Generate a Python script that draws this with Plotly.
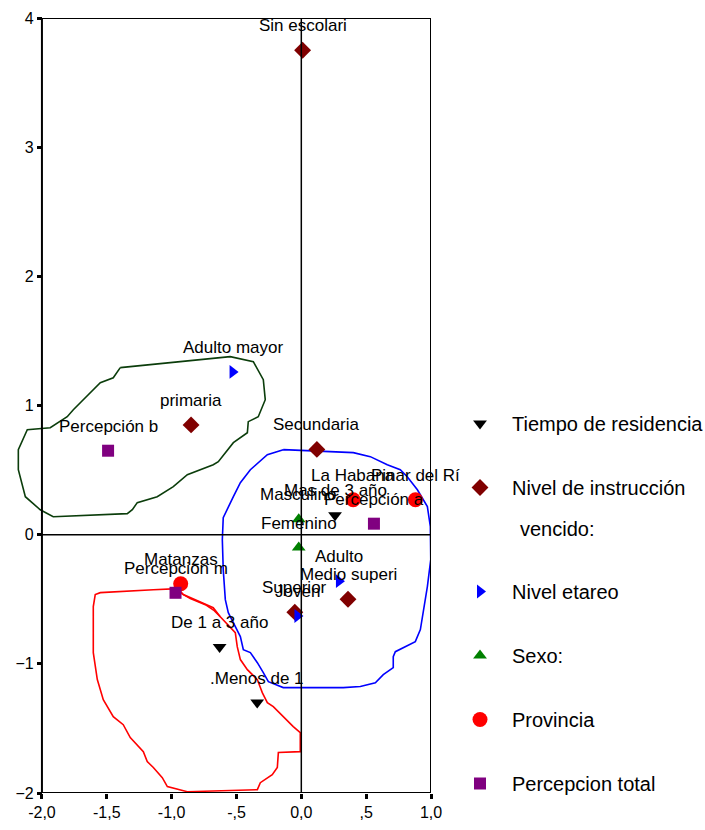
import plotly.graph_objects as go

FONT = "Liberation Sans, Arial, sans-serif"

# Category points (dimension 1, dimension 2)
tiempo_lab = ["Mas de 3 año", "De 1 a 3 año", ".Menos de 1"]
tiempo_x = [0.26, -0.63, -0.34]
tiempo_y = [0.15, -0.87, -1.30]

nivel_lab = ["Sin escolari", "primaria", "Secundaria", "Medio superi", "Superior"]
nivel_x = [0.01, -0.85, 0.12, 0.36, -0.05]
nivel_y = [3.75, 0.85, 0.66, -0.50, -0.60]

etareo_lab = ["Adulto mayor", "Adulto", "Joven"]
etareo_x = [-0.53, 0.29, -0.03]
etareo_y = [1.26, -0.36, -0.63]

sexo_lab = ["Masculino", "Femenino"]
sexo_x = [-0.02, -0.02]
sexo_y = [0.12, -0.10]

prov_lab = ["La Habana", "Pinar del Rí", "Matanzas"]
prov_x = [0.40, 0.88, -0.93]
prov_y = [0.27, 0.27, -0.38]

perc_lab = ["Percepción a", "Percepcion m", "Percepción b"]
perc_x = [0.56, -0.97, -1.49]
perc_y = [0.085, -0.45, 0.65]

# Hand-drawn grouping outlines
green_x = [-1.396, -0.548, -0.370, -0.293, -0.278, -0.332, -0.409, -0.416, -0.524, -0.640,
           -0.679, -0.879, -0.987, -1.111, -1.265, -1.303, -1.342, -1.913, -2.013, -2.128,
           -2.182, -2.182, -2.113, -1.936, -1.805, -1.758, -1.550, -1.450, -1.396]
green_y = [1.293, 1.378, 1.339, 1.200, 1.045, 0.913, 0.875, 0.789, 0.712, 0.565,
           0.542, 0.464, 0.372, 0.294, 0.248, 0.193, 0.163, 0.139, 0.193, 0.294,
           0.503, 0.658, 0.813, 0.828, 0.913, 0.967, 1.176, 1.215, 1.293]

blue_x = [-0.139, 0.401, 0.532, 0.663, 0.763, 0.817, 0.895, 0.972, 0.995, 0.998,
          0.972, 0.941, 0.918, 0.879, 0.787, 0.725, 0.709, 0.709, 0.632, 0.571,
          0.455, 0.324, -0.139, -0.254, -0.293, -0.339, -0.393, -0.447, -0.470, -0.524,
          -0.563, -0.586, -0.602, -0.609, -0.602, -0.524, -0.470, -0.393, -0.262, -0.139]
blue_y = [0.658, 0.635, 0.604, 0.542, 0.503, 0.449, 0.348, 0.217, 0.062, -0.193,
          -0.402, -0.580, -0.735, -0.828, -0.875, -0.906, -0.944, -1.029, -1.084, -1.146,
          -1.176, -1.184, -1.184, -1.138, -1.068, -0.991, -0.913, -0.890, -0.789, -0.681,
          -0.604, -0.503, -0.271, -0.039, 0.132, 0.294, 0.402, 0.503, 0.619, 0.658]

red_x = [-0.949, -1.141, -1.550, -1.589, -1.604, -1.604, -1.573, -1.527, -1.450, -1.373,
         -1.319, -1.218, -1.188, -1.141, -1.072, -1.033, -0.879, -0.339, -0.316, -0.224,
         -0.185, -0.177, -0.008, -0.008, -0.062, -0.139, -0.216, -0.262, -0.301, -0.339,
         -0.416, -0.470, -0.494, -0.509, -0.571, -0.625, -0.679, -0.779, -0.910, -0.949,
         None, -0.949, -0.856, -0.740, -0.671, -0.625]
red_y = [-0.418, -0.426, -0.449, -0.464, -0.557, -0.913, -1.122, -1.277, -1.409, -1.471,
         -1.571, -1.680, -1.757, -1.803, -1.881, -1.950, -1.990, -1.974, -1.920, -1.858,
         -1.803, -1.687, -1.680, -1.533, -1.486, -1.409, -1.331, -1.300, -1.223, -1.122,
         -1.045, -0.967, -0.867, -0.759, -0.697, -0.635, -0.565, -0.519, -0.464, -0.418,
         None, -0.441, -0.495, -0.542, -0.588, -0.635]

x_ticks = [-2.0, -1.5, -1.0, -0.5, 0.0, 0.5, 1.0]
x_ticktext = ["-2,0", "-1,5", "-1,0", "-,5", "0,0", ",5", "1,0"]
y_ticks = [-2, -1, 0, 1, 2, 3, 4]

fig = go.Figure()

for ox, oy, col in [(green_x, green_y, "#0b3d0b"), (blue_x, blue_y, "#0000ff"), (red_x, red_y, "#ff0000")]:
    fig.add_trace(go.Scatter(x=ox, y=oy, mode="lines", line=dict(color=col, width=1.6),
                             showlegend=False, hoverinfo="skip"))

series = [
    ("Tiempo de residencia", tiempo_lab, tiempo_x, tiempo_y, "triangle-down", "black", 12, "legend"),
    ("Nivel de instrucción", nivel_lab, nivel_x, nivel_y, "diamond", "#800000", 13, "legend"),
    ("Nivel etareo", etareo_lab, etareo_x, etareo_y, "triangle-right", "#0000ff", 12, "legend2"),
    ("Sexo:", sexo_lab, sexo_x, sexo_y, "triangle-up", "#008000", 12, "legend2"),
    ("Provincia", prov_lab, prov_x, prov_y, "circle", "#ff0000", 15, "legend2"),
    ("Percepcion total", perc_lab, perc_x, perc_y, "square", "#800080", 12, "legend2"),
]

for name, labs, xs, ys, sym, col, size, lg in series:
    fig.add_trace(go.Scatter(x=xs, y=ys, mode="markers", name=name, legendgroup=name,
                             legend=lg, cliponaxis=False,
                             marker=dict(symbol=sym, color=col, size=size, line=dict(width=0))))
    for t, xv, yv in zip(labs, xs, ys):
        fig.add_annotation(x=xv, y=yv, text=t, showarrow=False, yanchor="bottom", yshift=13,
                           font=dict(family=FONT, size=17, color="black"))

# Second line of the "Nivel de instrucción" legend entry
fig.add_annotation(xref="paper", yref="paper", x=(518 - 16) / 415, y=1 - (529 - 18) / 775,
                   xanchor="left", yanchor="middle", text="vencido:", showarrow=False,
                   font=dict(family=FONT, size=20, color="black"))

# Frame and the two reference axes through the origin
fig.add_shape(type="rect", x0=-2, x1=1, y0=-2, y1=4, line=dict(color="black", width=2), layer="above")
fig.add_shape(type="line", x0=0, x1=0, y0=-2, y1=4, line=dict(color="black", width=1.5), layer="above")
fig.add_shape(type="line", x0=-2, x1=1, y0=0, y1=0, line=dict(color="black", width=1.5), layer="above")

legend_common = dict(font=dict(family=FONT, size=20, color="black"), bgcolor="rgba(0,0,0,0)",
                     xanchor="left", yanchor="top", tracegroupgap=35, itemwidth=54, valign="top",
                     itemclick=False)

fig.update_layout(
    width=705, height=830,
    margin=dict(l=16, r=274, t=18, b=37, autoexpand=False),
    plot_bgcolor="white", paper_bgcolor="white",
    font=dict(family=FONT, size=16, color="black"),
    xaxis=dict(range=[-2.2, 1.0], tickvals=x_ticks, ticktext=x_ticktext, showgrid=False,
               zeroline=False, showline=False, ticks="outside", ticklen=5, tickwidth=3,
               tickcolor="black", tickfont=dict(family=FONT, size=16, color="black")),
    yaxis=dict(range=[-2, 4], tickvals=y_ticks, showgrid=False, zeroline=False, showline=False,
               anchor="free", position=0.0625, ticks="outside", ticklen=5, tickwidth=3,
               tickcolor="black", tickfont=dict(family=FONT, size=16, color="black")),
    legend=dict(x=(448 - 16) / 415, y=1 - (404 - 18) / 775, **legend_common),
    legend2=dict(x=(448 - 16) / 415, y=1 - (572 - 18) / 775, **legend_common),
    showlegend=True,
)

fig.write_html("out.html")
